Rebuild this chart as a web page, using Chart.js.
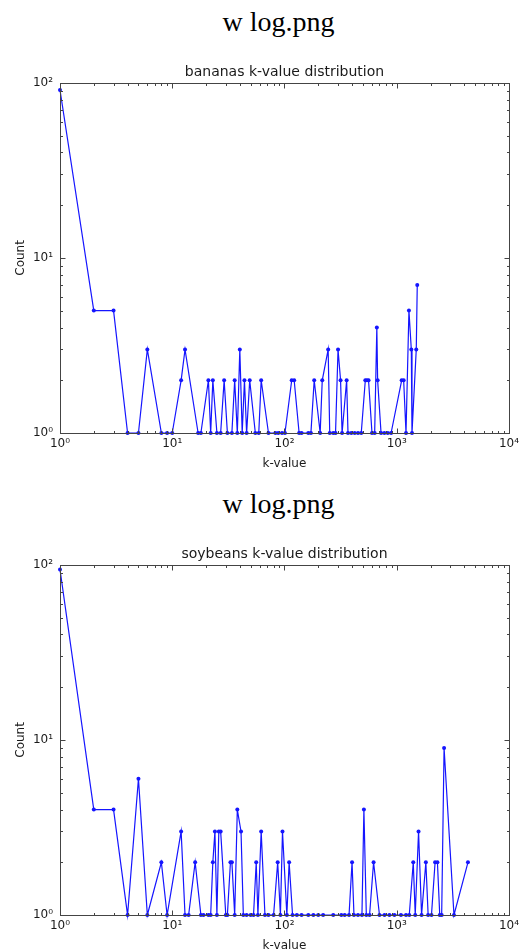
<!DOCTYPE html>
<html>
<head>
<meta charset="utf-8">
<script src="https://cdn.jsdelivr.net/npm/chart.js@4"></script>
<style>
  html, body { margin: 0; padding: 0; background: #fff; overflow: hidden; width: 523px; height: 949px; }
  .block { position: absolute; left: 0; width: 523px; height: 482px; }
  .block h1 {
    position: absolute; left: 0; top: 8px; width: 557px; margin: 0;
    font: normal 28px/28px 'Liberation Serif', 'Times New Roman', serif;
    text-align: center; color: #000;
  }
  .block canvas { position: absolute; left: 0; top: 50px; }
</style>
</head>
<body>
<div class="block" style="top:0">
  <h1>w log.png</h1>
  <canvas id="bananas" width="523" height="430"></canvas>
</div>
<div class="block" style="top:482px">
  <h1>w log.png</h1>
  <canvas id="soybeans" width="523" height="430"></canvas>
</div>
<script>
// axis ticks (matplotlib style log axes)
const X_MAJOR = [1, 10, 100, 1000, 10000];
const X_LABELS = ['10⁰', '10¹', '10²', '10³', '10⁴'];
const Y_MAJOR = [1, 10, 100];
const Y_LABELS = ['10⁰', '10¹', '10²'];
const MINOR_STEPS = [2, 3, 4, 5, 6, 7, 8, 9];

// bananas: k-value -> count
const bananasK = [1, 2, 3, 4, 5, 6, 8, 9, 10, 12, 13, 17, 18, 21, 22, 23, 25, 27, 29, 31,
  34, 36, 38, 40, 42, 44, 46, 49, 55, 59, 62, 72, 83, 88, 95, 101, 116, 122, 135, 142,
  163, 172, 184, 208, 217, 245, 253, 272, 285, 300, 316, 326, 358, 368, 394, 422, 452, 483,
  525, 543, 561, 602, 636, 665, 676, 725, 776, 832, 891, 1107, 1153, 1210, 1285, 1349,
  1368, 1493, 1524];
const bananasCount = [91, 5, 5, 1, 1, 3, 1, 1, 1, 2, 3, 1, 1, 2, 1, 2, 1, 1, 2, 1,
  1, 2, 1, 3, 1, 2, 1, 2, 1, 1, 2, 1, 1, 1, 1, 1, 2, 2, 1, 1,
  1, 1, 2, 1, 2, 3, 1, 1, 1, 3, 2, 1, 2, 1, 1, 1, 1, 1,
  2, 2, 2, 1, 1, 4, 2, 1, 1, 1, 1, 2, 2, 1, 5, 3,
  1, 3, 7];

// soybeans: k-value -> count
const soybeansK = [1, 2, 3, 4, 5, 6, 8, 9, 12, 13, 14, 16, 18, 19, 21, 22, 23, 24, 25, 26,
  27, 30, 31, 33, 34, 36, 38, 41, 43, 46, 50, 53, 56, 58, 62, 67, 72, 80, 87, 92,
  96, 105, 110, 118, 129, 142, 163, 181, 200, 221, 272, 321, 344, 376, 400, 416, 452, 490,
  510, 536, 573, 622, 702, 778, 861, 953, 1091, 1210, 1294, 1404, 1462, 1565, 1665, 1818,
  1905, 2040, 2197, 2305, 2417, 2515, 2642, 3237, 4313];
const soybeansCount = [94, 4, 4, 1, 6, 1, 2, 1, 3, 1, 1, 2, 1, 1, 1, 1, 2, 3, 1, 3,
  3, 1, 1, 2, 2, 1, 4, 3, 1, 1, 1, 1, 2, 1, 3, 1, 1, 1, 2, 1,
  3, 1, 2, 1, 1, 1, 1, 1, 1, 1, 1, 1, 1, 1, 2, 1, 1, 1,
  4, 1, 1, 2, 1, 1, 1, 1, 1, 1, 1, 2, 1, 3, 1, 2,
  1, 1, 2, 2, 1, 1, 9, 1, 2];

const LINE_BLUE = '#1515ff';
const TEXT = '#1a1a1a';
const FONT = 'DejaVu Sans, sans-serif';

function withMinors(majors) {
  const out = [];
  majors.forEach((m, i) => {
    out.push(m);
    if (i < majors.length - 1) MINOR_STEPS.forEach(s => out.push(m * s));
  });
  return out;
}

// frame + inward ticks on all four sides
const frameTicks = {
  id: 'frameTicks',
  afterDatasetsDraw(chart) {
    const { ctx, chartArea: a, scales } = chart;
    const L = Math.round(a.left) + 0.5, R = Math.round(a.right) + 0.5;
    const T = Math.round(a.top) + 0.5, B = Math.round(a.bottom) + 0.5;
    ctx.save();
    ctx.strokeStyle = '#444';
    ctx.lineWidth = 1;
    ctx.beginPath();
    scales.x.ticks.forEach(t => {
      const len = X_MAJOR.includes(t.value) ? 5 : 2.5;
      const px = Math.round(scales.x.getPixelForValue(t.value)) + 0.5;
      ctx.moveTo(px, B); ctx.lineTo(px, B - len);
      ctx.moveTo(px, T); ctx.lineTo(px, T + len);
    });
    scales.y.ticks.forEach(t => {
      const len = Y_MAJOR.includes(t.value) ? 5 : 2.5;
      const py = Math.round(scales.y.getPixelForValue(t.value)) + 0.5;
      ctx.moveTo(L, py); ctx.lineTo(L + len, py);
      ctx.moveTo(R, py); ctx.lineTo(R - len, py);
    });
    ctx.stroke();
    ctx.strokeRect(L, T, R - L, B - T);
    ctx.restore();
  }
};

function makeChart(id, titleText, kVals, counts) {
  return new Chart(document.getElementById(id), {
    type: 'scatter',
    data: {
      datasets: [{
        data: kVals.map((k, i) => ({ x: k, y: counts[i] })),
        showLine: true,
        borderColor: LINE_BLUE,
        backgroundColor: LINE_BLUE,
        borderWidth: 1.2,
        pointRadius: 2,
        pointHoverRadius: 2,
        pointBorderWidth: 0,
        clip: false,
      }]
    },
    options: {
      responsive: false,
      animation: false,
      layout: { padding: { top: 14, left: 0, right: 11, bottom: 0 } },
      plugins: {
        legend: { display: false },
        tooltip: { enabled: false },
        title: {
          display: true, text: titleText, fullSize: false, color: TEXT,
          font: { family: FONT, size: 14, weight: 'normal' },
          padding: { top: 0, bottom: 2 }
        }
      },
      scales: {
        x: {
          type: 'logarithmic', min: 1, max: 10000,
          grid: { display: false, drawTicks: false },
          border: { display: false },
          afterBuildTicks: s => { s.ticks = withMinors(X_MAJOR).map(v => ({ value: v })); },
          afterFit: s => { s.height = 47; },
          ticks: {
            autoSkip: false, maxRotation: 0, padding: 4, color: TEXT,
            font: { family: FONT, size: 12 },
            callback: v => { const i = X_MAJOR.indexOf(v); return i >= 0 ? X_LABELS[i] : ''; }
          },
          title: {
            display: true, text: 'k-value', color: TEXT,
            font: { family: FONT, size: 12 }, padding: { top: 0, bottom: 9 }
          }
        },
        y: {
          type: 'logarithmic', min: 1, max: 100,
          grid: { display: false, drawTicks: false },
          border: { display: false },
          afterBuildTicks: s => { s.ticks = withMinors(Y_MAJOR).map(v => ({ value: v })); },
          afterFit: s => { s.width = 60; },
          ticks: {
            autoSkip: false, padding: 7, color: TEXT,
            font: { family: FONT, size: 12 },
            callback: v => { const i = Y_MAJOR.indexOf(v); return i >= 0 ? Y_LABELS[i] : ''; }
          },
          title: {
            display: true, text: 'Count', color: TEXT,
            font: { family: FONT, size: 12 }, padding: { top: 14, bottom: 0 }
          }
        }
      }
    },
    plugins: [frameTicks]
  });
}

makeChart('bananas', 'bananas k-value distribution', bananasK, bananasCount);
makeChart('soybeans', 'soybeans k-value distribution', soybeansK, soybeansCount);
</script>
</body>
</html>
